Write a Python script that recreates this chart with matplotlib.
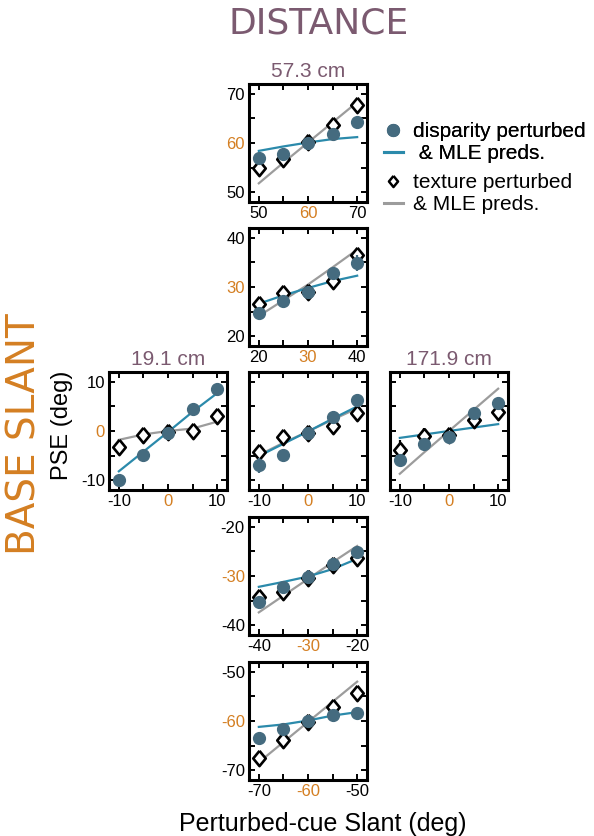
import matplotlib
matplotlib.use("Agg")
import matplotlib.pyplot as plt
from matplotlib.lines import Line2D

plt.rcParams['font.family'] = ['Liberation Sans', 'DejaVu Sans']

# ---------------- data ----------------
offsets = [-10, -5, 0, 5, 10]          # perturbation offsets (deg) around base slant

# distance 57.3 cm, base slant 60
base_57_60 = 60
disp_57_60 = [57.0, 57.8, 60.0, 61.8, 64.2]
tex_57_60 = [54.9, 56.8, 60.2, 63.6, 67.7]
mle_disp_57_60 = [58.4, 59.3, 60.1, 60.8, 61.2]
mle_tex_57_60 = [51.8, 56.0, 60.1, 64.2, 68.3]
derr_57_60 = [0.4, 0.4, 0.4, 0.4, 0.5]
terr_57_60 = [0.4, 0.4, 0.6, 0.4, 0.4]

# distance 57.3 cm, base slant 30
base_57_30 = 30
disp_57_30 = [24.8, 27.1, 29.0, 32.8, 34.9]
tex_57_30 = [26.6, 28.8, 29.0, 31.3, 36.6]
mle_disp_57_30 = [26.6, 28.3, 29.8, 31.2, 32.3]
mle_tex_57_30 = [24.1, 27.3, 30.5, 34.0, 37.6]
derr_57_30 = [0.5, 0.5, 0.5, 0.5, 1.6]
terr_57_30 = [0.5, 0.5, 1.0, 0.8, 0.5]

# distance 19.1 cm, base slant 0
base_19_0 = 0
disp_19_0 = [-10.0, -4.8, -0.4, 4.4, 8.6]
tex_19_0 = [-3.3, -0.9, -0.2, -0.1, 3.0]
mle_disp_19_0 = [-8.2, -4.2, -0.2, 3.9, 7.7]
mle_tex_19_0 = [-1.8, -0.7, 0.0, 0.5, 1.9]
derr_19_0 = [0.4, 0.4, 0.8, 0.4, 0.9]
terr_19_0 = [0.4, 0.4, 0.4, 0.4, 0.4]

# distance 57.3 cm, base slant 0
base_57_0 = 0
disp_57_0 = [-7.0, -4.8, -0.5, 2.9, 6.3]
tex_57_0 = [-4.3, -1.2, -0.4, 1.0, 3.7]
mle_disp_57_0 = [-5.1, -2.6, -0.1, 2.5, 5.0]
mle_tex_57_0 = [-4.9, -2.4, -0.1, 2.3, 4.6]
derr_57_0 = [1.5, 1.2, 0.6, 0.6, 1.3]
terr_57_0 = [0.6, 0.6, 1.0, 1.3, 1.2]

# distance 171.9 cm, base slant 0
base_171_0 = 0
disp_171_0 = [-5.8, -2.6, -1.2, 3.7, 5.6]
tex_171_0 = [-3.9, -1.1, -0.9, 2.2, 3.9]
mle_disp_171_0 = [-1.4, -0.7, 0.0, 0.7, 1.4]
mle_tex_171_0 = [-8.7, -4.3, 0.0, 4.3, 8.6]
derr_171_0 = [0.5, 0.5, 1.0, 0.5, 0.5]
terr_171_0 = [2.0, 1.8, 0.6, 1.5, 1.2]

# distance 57.3 cm, base slant -30
base_57_m30 = -30
disp_57_m30 = [-35.3, -32.2, -30.2, -27.5, -25.1]
tex_57_m30 = [-34.2, -33.2, -30.5, -27.7, -26.3]
mle_disp_57_m30 = [-32.2, -31.2, -30.1, -28.6, -26.5]
mle_tex_57_m30 = [-37.4, -34.0, -30.6, -27.2, -23.9]
derr_57_m30 = [0.5, 0.5, 1.5, 1.2, 0.5]
terr_57_m30 = [0.6, 0.5, 0.6, 0.6, 0.5]

# distance 57.3 cm, base slant -60
base_57_m60 = -60
disp_57_m60 = [-63.5, -61.7, -60.0, -58.8, -58.3]
tex_57_m60 = [-67.6, -63.9, -60.2, -57.2, -54.3]
mle_disp_57_m60 = [-61.2, -60.7, -59.9, -58.9, -58.2]
mle_tex_57_m60 = [-68.4, -64.3, -60.2, -56.1, -52.0]
derr_57_m60 = [0.4, 0.4, 0.4, 0.4, 0.4]
terr_57_m60 = [0.4, 0.4, 0.6, 0.4, 0.4]

distance_labels = ['19.1 cm', '57.3 cm', '171.9 cm']

# ---------------- style ----------------
ORANGE = '#d47f22'
PURPLE = '#7b5a70'
DOT = '#456b7f'
BLUE = '#2b8aab'
GRAY = '#9c9c9c'
DIAMOND = [(0, 1), (0.82, 0), (0, -1), (-0.82, 0), (0, 1)]

W, H = 594, 836
fig = plt.figure(figsize=(W / 100, H / 100), dpi=100)

def box(left, top, w=118, h=118):
    return [left / W, 1 - (top + h) / H, w / W, h / H]

panels = [
    (box(249, 84), base_57_60, disp_57_60, tex_57_60, mle_disp_57_60, mle_tex_57_60, derr_57_60, terr_57_60, True),
    (box(249, 228), base_57_30, disp_57_30, tex_57_30, mle_disp_57_30, mle_tex_57_30, derr_57_30, terr_57_30, True),
    (box(109, 372), base_19_0, disp_19_0, tex_19_0, mle_disp_19_0, mle_tex_19_0, derr_19_0, terr_19_0, True),
    (box(249, 372), base_57_0, disp_57_0, tex_57_0, mle_disp_57_0, mle_tex_57_0, derr_57_0, terr_57_0, False),
    (box(390, 372), base_171_0, disp_171_0, tex_171_0, mle_disp_171_0, mle_tex_171_0, derr_171_0, terr_171_0, False),
    (box(249, 517), base_57_m30, disp_57_m30, tex_57_m30, mle_disp_57_m30, mle_tex_57_m30, derr_57_m30, terr_57_m30, True),
    (box(249, 662), base_57_m60, disp_57_m60, tex_57_m60, mle_disp_57_m60, mle_tex_57_m60, derr_57_m60, terr_57_m60, True),
]

axes = []
for rect, base, disp, tex, mled, mlet, derr, terr, show_y in panels:
    ax = fig.add_axes(rect)
    axes.append(ax)
    xs = [base + o for o in offsets]
    ax.plot(xs, mlet, color=GRAY, lw=1.6, zorder=2)
    ax.plot(xs, mled, color=BLUE, lw=1.6, zorder=3)
    ax.errorbar(xs, tex, yerr=terr, fmt='none', ecolor='black', elinewidth=1.6,
                capsize=0, zorder=4)
    ax.plot(xs, tex, ls='none', marker=DIAMOND, ms=11, mfc='white', mec='black',
            mew=1.9, zorder=4)
    ax.errorbar(xs, disp, yerr=derr, fmt='o', ms=8.5, mfc=DOT, mec=DOT,
                ecolor=DOT, elinewidth=1.6, capsize=0, zorder=5)
    ax.set_xlim(base - 12, base + 12)
    ax.set_ylim(base - 12, base + 12)
    ax.set_xticks(xs)
    ax.set_yticks(xs)
    lab = ['' if o % 10 else str(base + o) for o in offsets]
    ax.set_xticklabels(lab)
    ax.set_yticklabels(lab if show_y else [''] * 5)
    ax.tick_params(direction='in', length=4, width=1.4, top=True, right=True,
                   labelsize=12, pad=3)
    for t in ax.get_xticklabels() + ax.get_yticklabels():
        if t.get_text() == str(base):
            t.set_color(ORANGE)
    for s in ax.spines.values():
        s.set_linewidth(2.2)

# distance titles
axes[2].set_title(distance_labels[0], color=PURPLE, fontsize=15, pad=5)
axes[0].set_title(distance_labels[1], color=PURPLE, fontsize=15, pad=5)
axes[4].set_title(distance_labels[2], color=PURPLE, fontsize=15, pad=5)

# header texts
fig.text(319 / W, 1 - 24 / H, 'DISTANCE', color=PURPLE, fontsize=26,
         family='DejaVu Sans', ha='center', va='center')
fig.text(25 / W, 1 - 434 / H, 'BASE SLANT', color=ORANGE, fontsize=28,
         family='DejaVu Sans', ha='center', va='center', rotation=90)
fig.text(62 / W, 1 - 425 / H, 'PSE (deg)', color='black', fontsize=17,
         ha='center', va='center', rotation=90)
fig.text(323 / W, 1 - 812 / H, 'Perturbed-cue Slant (deg)', color='black',
         fontsize=18, ha='center', va='top')

# legends
h1 = [Line2D([], [], ls='none', marker='o', ms=8.5, mfc=DOT, mec=DOT),
      Line2D([], [], color=BLUE, lw=2.2)]
h2 = [Line2D([], [], ls='none', marker=DIAMOND, ms=8, mfc='white', mec='black', mew=1.8),
      Line2D([], [], color=GRAY, lw=2.2)]
leg1 = fig.legend(h1, ['disparity perturbed', ' & MLE preds.'], loc='upper left',
                  bbox_to_anchor=(384 / W, 1 - 122 / H), frameon=False, fontsize=15,
                  handlelength=0.9, handletextpad=0.5, labelspacing=0.15,
                  borderpad=0, borderaxespad=0)
fig.add_artist(leg1)
fig.legend(h2, ['texture perturbed', '& MLE preds.'], loc='upper left',
           bbox_to_anchor=(384 / W, 1 - 173 / H), frameon=False, fontsize=15,
           handlelength=0.9, handletextpad=0.5, labelspacing=0.15,
           borderpad=0, borderaxespad=0)

fig.savefig('out.png', dpi=100)
